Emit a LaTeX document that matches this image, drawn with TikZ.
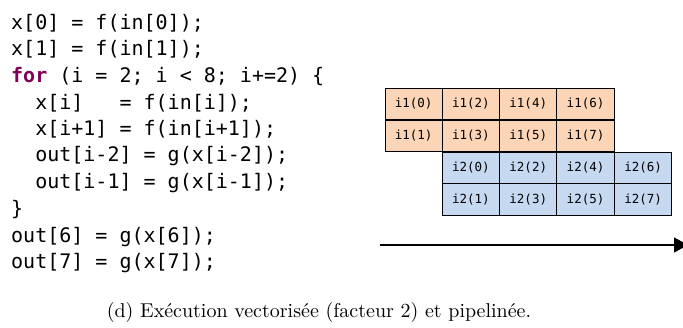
\documentclass[tikz,border=0pt]{standalone}
\usepackage{fontspec}
\newfontfamily\codefont{DejaVu Sans Mono}
\usetikzlibrary{arrows.meta}
\definecolor{kw}{HTML}{7F0055}
\definecolor{orangebox}{HTML}{FBD5B5}
\definecolor{bluebox}{HTML}{C6D9F1}
\tikzset{
  codeline/.style={anchor=west, inner sep=0pt, font=\codefont\fontsize{20}{24}\selectfont},
  cell/.style={draw=black, line width=0.9pt, minimum width=57.3pt, minimum height=31.8pt, inner sep=0pt, font=\codefont\fontsize{12.5}{14}\selectfont},
  cellA/.style={cell, fill=orangebox},
  cellB/.style={cell, fill=bluebox},
  timeline/.style={line width=1.4pt, -{Triangle[length=14pt,width=15pt]}},
  captionstyle/.style={font=\fontsize{10}{12}\selectfont, scale=2.0, transform shape}
}
\begin{document}
\begin{tikzpicture}[x=1pt,y=-1pt]
\useasboundingbox (0,0) rectangle (683,327);
\node[codeline] (l1) at (11,23) {x[0] = f(in[0]);};
\node[codeline] (l2) at (11,49.7) {x[1] = f(in[1]);};
\node[codeline] (l3) at (11,76.4) {\textcolor{kw}{\textbf{for}} (i = 2; i < 8; i+=2) \{};
\node[codeline] (l4) at (11,103.1) {\ \ x[i]\ \ \ = f(in[i]);};
\node[codeline] (l5) at (11,129.8) {\ \ x[i+1] = f(in[i+1]);};
\node[codeline] (l6) at (11,156.5) {\ \ out[i-2] = g(x[i-2]);};
\node[codeline] (l7) at (11,183.2) {\ \ out[i-1] = g(x[i-1]);};
\node[codeline] (l8) at (11,209.9) {\}};
\node[codeline] (l9) at (11,236.6) {out[6] = g(x[6]);};
\node[codeline] (l10) at (11,263.3) {out[7] = g(x[7]);};
% orange
\node[cellA] (a0) at (413.65,104) {i1(0)};
\node[cellA] (a2) at (470.95,104) {i1(2)};
\node[cellA] (a4) at (528.25,104) {i1(4)};
\node[cellA] (a6) at (585.55,104) {i1(6)};
\node[cellA] (a1) at (413.65,136) {i1(1)};
\node[cellA] (a3) at (470.95,136) {i1(3)};
\node[cellA] (a5) at (528.25,136) {i1(5)};
\node[cellA] (a7) at (585.55,136) {i1(7)};
% blue
\node[cellB] (b0) at (470.95,168) {i2(0)};
\node[cellB] (b2) at (528.25,168) {i2(2)};
\node[cellB] (b4) at (585.55,168) {i2(4)};
\node[cellB] (b6) at (643.15,168) {i2(6)};
\node[cellB] (b1) at (470.95,199.5) {i2(1)};
\node[cellB] (b3) at (528.25,199.5) {i2(3)};
\node[cellB] (b5) at (585.55,199.5) {i2(5)};
\node[cellB] (b7) at (643.15,199.5) {i2(7)};
% timeline
\coordinate (t0) at (380,245);
\coordinate (t1) at (688,245);
\draw[timeline] (t0) -- (t1);
% caption
\node[captionstyle] (cap) at (319,312) {(d) Exécution vectorisée (facteur 2) et pipelinée.};
\end{tikzpicture}
\end{document}
